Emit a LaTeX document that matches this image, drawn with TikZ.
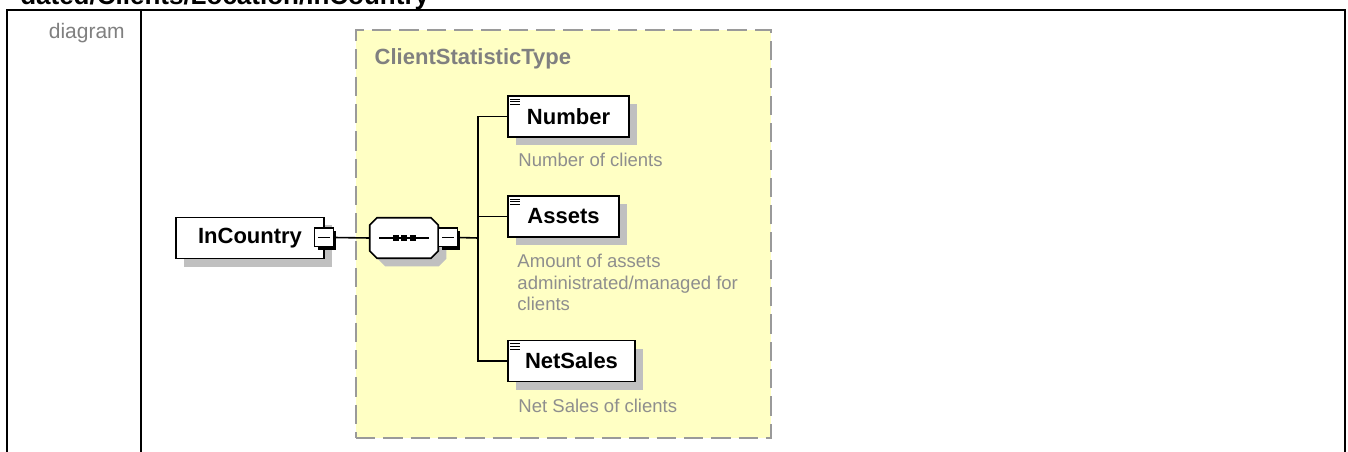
\documentclass[tikz,border=0pt]{standalone}
\usepackage{fontspec}
\setmainfont{Liberation Sans}
\usetikzlibrary{positioning,shadows,calc}
\definecolor{typefill}{HTML}{FFFFC4}
\definecolor{typeline}{HTML}{9A9A9A}
\definecolor{doctext}{HTML}{8E8E8E}
\definecolor{shade}{HTML}{C0C0C0}

% three-line mark in the top left corner of an element box
\newcommand{\elemicon}[1]{%
  \foreach \dy in {4,6.7,9.4}
    \draw[line width=0.9pt] ([shift={(3,\dy)}]#1.north west) -- ++(10,0);}

\begin{document}
\begin{tikzpicture}[
      x=0.75pt, y=-0.75pt,
      frame/.style={line width=1.5pt},
      ctype/.style={draw=typeline, fill=typefill, line width=1.4pt,
                    dash pattern=on 14.5pt off 6pt},
      ctitle/.style={anchor=base west, text=gray,
                     font=\bfseries\fontsize{16.5}{18}\selectfont},
      elem/.style={draw, fill=white, line width=1.2pt, inner sep=0pt,
                   minimum height=30.75pt,
                   font=\bfseries\fontsize{16.5}{18}\selectfont,
                   copy shadow={shadow xshift=6pt, shadow yshift=-6pt,
                                fill=shade, draw=none}},
      minus/.style={draw, fill=white, line width=1pt, inner sep=0pt,
                    minimum size=14pt,
                    copy shadow={shadow xshift=2.25pt, shadow yshift=-2.25pt,
                                 fill=black, draw=none},
                    path picture={\draw[line width=0.9pt]
                      ([xshift=2.5pt]path picture bounding box.west) --
                      ([xshift=-2.5pt]path picture bounding box.east);}},
      seqbox/.style={inner sep=0pt, minimum width=51pt, minimum height=30pt},
      octa/.style={draw, fill=white, line width=1.2pt,
                   copy shadow={shadow xshift=6pt, shadow yshift=-6pt,
                                fill=shade, draw=none}},
      conn/.style={line width=1.2pt},
      desc/.style={anchor=base west, align=left, text=doctext, inner sep=0pt,
                   font=\fontsize{13.9}{16.1}\selectfont}
    ]
    \path[use as bounding box, fill=white] (0,0) rectangle (1348,452);

    % table cells
    \draw[frame] (7,452) -- (7,10) -- (1345,10) -- (1345,452);
    \draw[frame] (141,10) -- (141,452);
    \node[anchor=base west, inner sep=0pt,
          font=\bfseries\fontsize{19.5}{22}\selectfont] (xpath) at (20,5)
      {dated/Clients/Location/InCountry};
    \node[anchor=base east, inner sep=0pt, text=gray,
          font=\fontsize{15.75}{18}\selectfont] (cell) at (125,39) {diagram};

    % the complex type
    \node[ctype, minimum width=311.25pt, minimum height=306pt] (ctype)
      at (563.5,234) {};
    \node[ctitle] (ctypename) at (370,65) {ClientStatisticType};

    \node[elem, minimum width=111pt] (incountry) at (250,238) {InCountry};
    \node[minus] (incminus) at (324,237.5) {};

    % sequence compositor
    \node[seqbox] (seq) at (404,238) {};
    \draw[octa] ([xshift=5.5pt]seq.north west) -- ([xshift=-5.5pt]seq.north east)
      -- ([yshift=-5.5pt]seq.north east) -- ([yshift=5.5pt]seq.south east)
      -- ([xshift=-5.5pt]seq.south east) -- ([xshift=5.5pt]seq.south west)
      -- ([yshift=5.5pt]seq.south west) -- ([yshift=-5.5pt]seq.north west) -- cycle;
    \draw[line width=1pt] ([xshift=-18.75pt]seq.center) -- ([xshift=18.75pt]seq.center);
    \foreach \dx in {-8.5,0,8.5}
      \fill ([shift={(\dx,0)}]seq.center) +(-3,-3) rectangle +(3,3);
    \node[minus] (seqminus) at (448,237.5) {};
    \coordinate (fork) at (478,238);

    \node[elem, minimum width=90.75pt] (number)   at (568.5,116.5) {Number};
    \node[elem, minimum width=83.25pt] (assets)   at (563.5,216.5) {Assets};
    \node[elem, minimum width=95.25pt] (netsales) at (571.5,361)   {NetSales};
    \elemicon{number}
    \elemicon{assets}
    \elemicon{netsales}

    \draw[conn] (incminus.east) -- (seq.west);
    \draw[conn] (seqminus.east) -- (fork);
    \draw[conn] (fork) |- (number.west);
    \draw[conn] (fork) |- (assets.west);
    \draw[conn] (fork) |- (netsales.west);

    % base of a three-line note sits on its last line
    \node[desc] (numberdoc) at ([shift={(11,29)}]number.south west)
      {Number of clients};
    \node[desc] (assetsdoc) at ([shift={(10,73)}]assets.south west)
      {Amount of assets\\administrated/managed for\\clients};
    \node[desc] (netsalesdoc) at ([shift={(11,30)}]netsales.south west)
      {Net Sales of clients};

  \end{tikzpicture}
\end{document}
